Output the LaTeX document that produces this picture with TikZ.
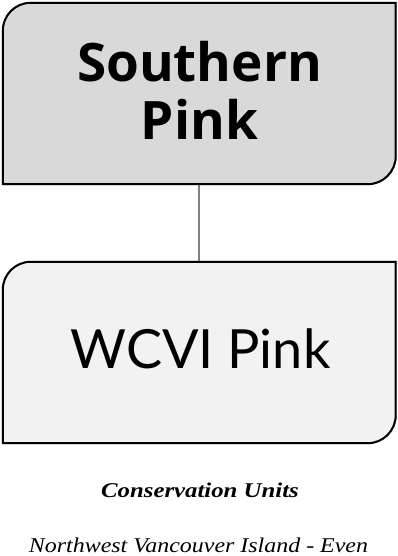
\documentclass[tikz,border=0pt]{standalone}
\usepackage{fontspec}
\setmainfont{Liberation Serif}
\newfontfamily\topfont{Open Sans}
\newfontfamily\botfont{Lato}
\newfontfamily\cufont[FakeStretch=1.18]{Liberation Serif}
\newfontfamily\nvfont[FakeStretch=1.14]{Liberation Serif}
\usetikzlibrary{backgrounds}
\begin{document}
\begin{tikzpicture}[x=1pt,y=1pt,
  boxnode/.style={rectangle,draw=none,minimum width=392.5pt,minimum height=181pt,inner sep=0pt},
  boxline/.style={draw=black,line width=2pt},
  shadow/.style={fill=black!35,draw=black!35,line width=2pt},
  link/.style={draw=black!50,line width=2pt},
  label/.style={inner sep=0pt,anchor=base},
  toptext/.style={label,font=\topfont\bfseries\fontsize{53}{58}\selectfont},
  bottext/.style={label,font=\botfont\fontsize{54}{60}\selectfont}]
\useasboundingbox (0,0) rectangle (397,556);
\node[boxnode] (top) at (199.25,462.5) {};
\node[boxnode] (bot) at (199.25,203.5) {};
\draw[link] (top.south) -- (bot.north);
\foreach \b/\c in {top/217,bot/242}{
  \path[shadow,xshift=0.8pt,yshift=-1.2pt]
    (\b.south west) -- ([yshift=-28pt]\b.north west) arc[start angle=180,end angle=90,radius=28pt]
    -- (\b.north east) -- ([yshift=28pt]\b.south east) arc[start angle=0,end angle=-90,radius=28pt] -- cycle;
  \path[boxline,fill={rgb,255:red,\c;green,\c;blue,\c}]
    (\b.south west) -- ([yshift=-28pt]\b.north west) arc[start angle=180,end angle=90,radius=28pt]
    -- (\b.north east) -- ([yshift=28pt]\b.south east) arc[start angle=0,end angle=-90,radius=28pt] -- cycle;
}
\node[toptext] (southern) at (199.5,474) {Southern};
\node[toptext] (pink) at (199.5,416) {Pink};
\node[bottext] (wcvi) at (200.5,187) {WCVI Pink};
\node[label,font=\cufont\bfseries\itshape\fontsize{21}{24}\selectfont] (cu) at (200,58) {Conservation Units};
\node[label,font=\nvfont\itshape\fontsize{21}{24}\selectfont] (nv) at (198.5,4) {Northwest Vancouver Island - Even};
\end{tikzpicture}
\end{document}
